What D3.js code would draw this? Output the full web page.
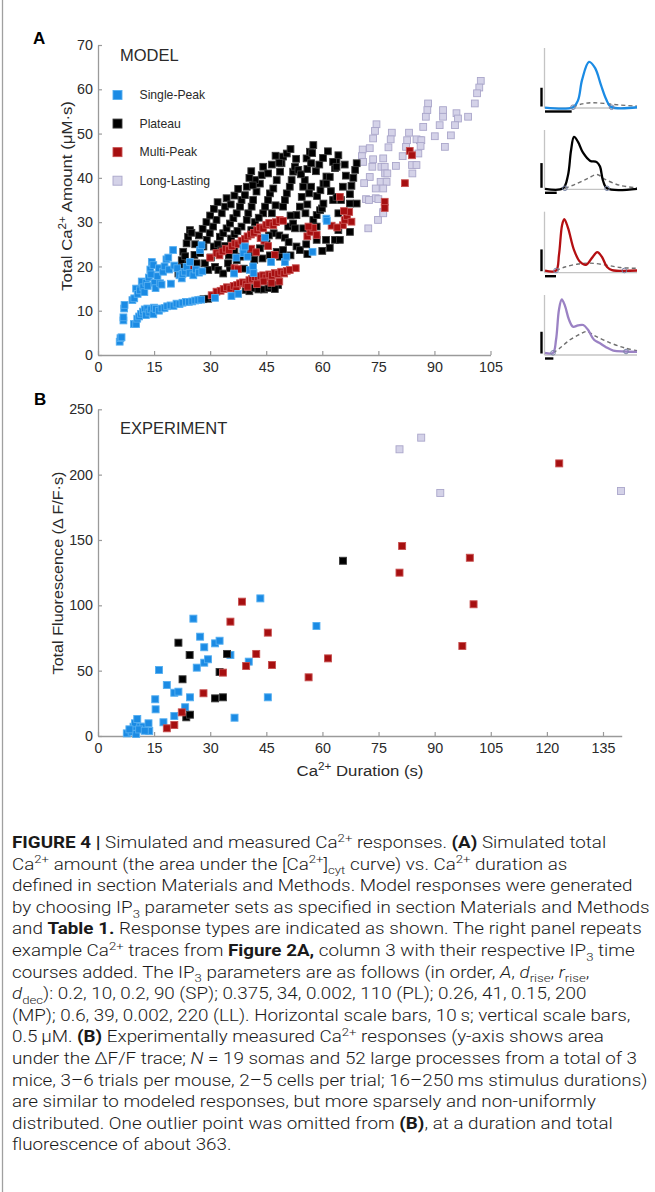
<!DOCTYPE html>
<html>
<head>
<meta charset="utf-8">
<script src="https://cdn.jsdelivr.net/npm/d3@7"></script>
<style>
  body { margin: 0; background: #fff; }
  svg { display: block; }
</style>
</head>
<body>
<svg id="fig" width="655" height="1192"></svg>
<script>
// ---- данные панели A (модель): [длительность, сумма Ca2+]
const singlePeakA = [
  [5.8,3],[6,3.8],[6.3,4],[6.8,7.8],[6.8,8.5],[7,10.5],[7.1,11.3],
  [9.6,7],[10.2,7],[10.5,8.2],[11,8.7],[11.5,9.3],[12,9.8],[12.5,10.3],[12.8,9],[13.2,10.5],[13.7,9.6],
  [14.2,10.3],[14.8,9.2],[15,10.7],[15.5,10.4],[16.3,10],[17,10.5],[17.8,10.6],[18.5,11],[19.4,11.2],
  [20.2,11.1],[21,11.6],[21.8,11.5],[22.6,11.8],[23.5,12],[24.3,12],[25.2,12.1],[26,12.3],[26.8,12.4],
  [27.6,12.5],[31.3,12.9],
  [9.2,12.4],[9.7,12.8],[10.2,15],[10.6,13.8],[11.2,14.6],[11.7,16.6],[12.1,15.3],[12.4,14.2],[12.9,16.3],
  [13.3,15.6],[13.6,17.5],[14,19.3],[14.2,18.2],[14.4,21],[14.8,20.3],[15.1,16.3],[15.4,15.1],[15.9,17.8],
  [16.3,19.6],[16.6,16.2],[17,15.9],[17.4,18.8],[17.8,20],[18.3,21.6],[18.8,22],[19,19.3],[19.5,16.1],
  [20.1,23.7],[20.4,20.2],[21.2,19.6],[21.8,18],[22.4,17.3],[22.6,18.3],[23.2,18.8],[23.7,19.9],[24.5,18.5],
  [24.6,21],[25.5,18],[26.2,19.3],[27,18.6],[27.3,23.7],[27.7,24.8],[27.9,18.9],
  [36.4,18.4],[37,22],[37.5,13.8],[35.7,13.3],[38.9,24.1],[38.9,23],[39.3,24.5],[40,22.2],[40.6,19.2],
  [41.5,20],[41.6,18.5],[44.7,26.5],[46.3,21],[50,21],[50.4,22.2],[57.4,23.3],[61.1,30.8],[61.2,30.3]
];
const plateauA = [
  [28.2,12.6],[29.5,12.7],[30.6,13.1],[39.5,14.7],[40.5,14.4],[41.9,15.1],[42.9,14.8],[44.4,14.8],
  [45.6,15.1],[46.3,15.7],[48.2,15.8],[47.3,14.9],
  [21.5,18.4],[21.9,19.9],[22.4,21.4],[22.8,23.3],[23.3,22.3],[23.7,25.2],[24.1,26.7],[24.6,28.2],
  [25,27.6],[24.2,20.5],[26.4,20.7],[25.8,22.6],
  [27.3,23],[28.2,24.5],[29.1,26],[29.9,27.5],[30.8,29],[31.7,30.5],[33.1,32],[34,33.5],[34.4,35.4],
  [32.6,26.7],[33.5,27.5],[34.4,28.6],[35.3,29.7],[36.2,30.9],[37.1,32],[38,33.5],[38.4,35],[39.3,36.1],[39.8,38],
  [38.4,29],[39.8,30.5],[40.2,32],[41.1,33.5],[41.5,35],[42.4,36.9],[43.3,38.7],[43.8,40.6],[44.2,42.5],
  [44.2,32],[44.7,33.5],[45.5,35],[46,36.5],[46.9,37.6],[47.8,39.5],[48.7,41.4],[49.1,43.3],[49.5,44.8],[48.5,43.4],
  [49.5,33.5],[50,35],[50.5,36.5],[51.3,38],[51.8,39.5],[52.2,41.4],[52.7,42.5],[53.6,41.8],[55.3,39.5],[54.3,40.8],
  [50.9,29],[52.2,29.7],[53.1,31.6],[54,33.5],[54.5,35.7],[54.9,38],[55.8,44.4],[56.7,45.9],[57.6,47.4],[57.3,45.6],
  [57.6,30.5],[58.5,31.6],[59.4,32.7],[59.9,33.1],[60.3,34.2],[58.6,35.9],[59.5,37.2],[60.3,38.7],[61.1,40.3],
  [62,40.2],[61.1,38.7],[62.9,35],[63.8,35.7],[63.4,42.2],[63.8,43.6],[64.3,45.1],[62.9,43.6],[63.8,42.5],
  [65,35],[64.3,32],[67.4,34.2],[69.2,34.2],[67.4,36.3],[67.8,38.2],[68.3,40],[68.8,41.8],[69.2,43.3],
  [28.6,20.7],[29.5,19.2],[31.3,19.9],[32.2,19.2],[33.5,18.4],[35.3,19.6],[34.8,20.7],[37.1,21.4],[38,22.2],
  [40.6,23],[43.3,24.1],[45.1,25.2],[47.8,23.3],[48.7,22.2],[49.5,23.7],[53.1,24.5],[54,23.7],[52.7,28.6],
  [54.9,28.6],[58.5,29],[63.4,26],[58.5,26],[61,26],[64.7,26],[64.3,28.2],[67.4,27.8],[55.7,25],
  [30.2,22],[31,24.5],[32,25],[33,23.8],[34,24.6],[35.6,26.3],[36.5,27.3],[37.3,28],[35,22.5],[36.5,23.6],
  [42,30],[43,31],[46.5,32],[47.5,33.8],[41,28.2],[42,39.5],[41.4,38.3],
  [26,25],[27,27],[28,28.5],[29,30],[30,31.5],[31,33],[32,34.5],[35.5,34],[36.5,36],[37.5,37.5],[40.5,40],
  [41,41.5],[45.5,41],[46.5,43],[47.5,45],[50.5,45.5],[51.5,46.5],[53,44.3],[56,42],[57,43.3],[58.3,41.5],
  [59.2,43],[60.2,44.5],[61.5,46],[65.5,38],[66.3,40.5],[66,43],[62.3,37],[57,38],[56.5,36.5],[56,34],
  [55.5,32],[51.5,31.5],[47,27.5],[48.5,27],[50,26.5],[51,25.5],[45.7,27],[39,19.5],[41.8,21.5],[44,21.8],
  [46,22.5],[51.5,22.5],[56,22.8],[60,23.5],[62,24.2]
];
const multiPeakA = [
  [30.4,13.5],[31.7,14.3],[32.8,14.5],[33.6,14.9],[34.5,15.3],[35.4,15],[36.3,15.6],[37.2,15.8],[38,16.2],
  [38.8,16.4],[39.6,16],[40.5,16.9],[41.2,17.2],[42,17.6],[42.8,17.2],[43.5,17.8],[44.2,18],[45,17.5],
  [45.8,18.2],[46.5,17.9],[47.3,18.5],[48.2,18.3],[49,18.8],[49.8,18.4],[50.5,19],[51.3,19.2],[52.9,19.6],
  [44.3,16.6],[46.4,16.3],[48.5,16.6],[40,15.4],[42.5,16],[37,14.6],
  [30,22],[31.7,23],[32.5,22.5],[33.3,23.4],[34.2,24],[35,23.7],[35.8,24.6],[36.7,25.2],[37.5,25],[38.4,25.8],
  [39.3,26.2],[40,26.8],[40.9,27.2],[41.7,27.6],[42.6,28.2],[43.3,28.8],[44.2,28.6],[45,29.4],[45.8,29.8],
  [46.9,29.3],[47.6,30],[48.6,30.5],[49.5,30.3],[43.5,26.4],[44.5,25.8],[45.5,24.6],[47.3,22.6],[36.5,19.6],
  [37.4,19.4],[24.6,19.5],[41,24],[42.3,23.2],
  [56,26.8],[56.8,27.8],[57.6,28.7],[58.5,27.1],[56.3,29],[65.5,29.3],[66,30.5],[66.6,31.4],[67.2,32.3],
  [67.8,30.1],[64.7,35.7],[65.8,32.5],[76.7,34.6],[76.7,33.2],[82.1,38.8],[83.4,46.1],[84,45.1],[62.5,29.2],[64,28.8]
];
const longLastingA = [
  [102.4,61.9],[102,60.4],[101.4,59.1],[100.8,56.8],[99,53.8],[95.9,54.6],[96.3,53.4],[95.5,51.9],[94.4,49.6],
  [92.8,47],[92.3,55.3],[92.3,53.8],[91.4,51.9],[90.1,49.4],[88.3,56.8],[88.1,55.3],[87.7,53.8],[87,51.5],
  [86.1,48.5],[83.2,50.2],[82.7,48.5],[82.4,47],[81.5,44.9],[85.2,48.7],[86.5,48.5],[86.3,47.2],[85.7,45.5],
  [84,42.9],[85.2,42.9],[84.1,41],[79.7,42.7],[78.6,50.2],[78.3,48.7],[77.7,46.9],[76.3,44.4],[74.5,52.1],
  [74.1,50.6],[73.6,48.9],[72.7,46.7],[70.8,46.4],[70.6,44.9],[70.9,43.6],[73.6,44.2],[73.4,42.5],[72.7,40.2],
  [75.8,42.5],[76.7,42.5],[76.8,41],[77.4,41],[75.6,39.1],[77.2,39.1],[74.3,37.6],[76.3,37.6],[71.2,38.8],
  [71.7,35.2],[74.3,35.4],[76.3,32.3],[74.9,30.5],[72.3,28.6],[76.3,32],[72.5,35],[75,35.2]
];

// ---- данные панели B (эксперимент)
const singlePeakB = [
  [7.7,2],[9,3.3],[9.5,7.1],[9.9,9.7],[10.5,13],[11.3,7.1],[12.1,7.1],[13.5,9.7],[13.7,3.8],[10.2,1.5],
  [8.4,5.1],[11,5],[12.5,4],[16.3,50.5],[15.3,28.1],[15.4,20.4],[17.5,10.5],[18.4,39],[20.4,33.1],[21.5,33.9],
  [20.4,15.3],[23.3,22],[24.6,29.6],[25.5,89.8],[26.4,52.3],[27.3,76],[28.4,67.9],[28.4,56.1],[29.4,58.7],
  [31.3,70.9],[32.5,72.9],[35.4,62],[36.5,14],[40.3,56.9],[43.4,105.3],[45.4,29.6],[58.4,84.2]
];
const plateauB = [
  [21.5,71.4],[24.5,62],[22.6,43.4],[23.6,14.3],[24.6,16.3],[31.3,28.8],[33.4,29.6],[32.5,49],[34.5,62.8],[65.5,134.1]
];
const multiPeakB = [
  [18.4,5.9],[20.4,8.4],[22.4,18.1],[28.2,32.7],[33.4,48.5],[35.4,87.5],[38.5,102.8],[39.6,53.6],[42.3,62.8],
  [45.4,79.1],[46.5,54.3],[56.3,44.9],[61.5,59.4],[97.4,68.9],[100.4,100.8],[123.3,208.6],[81.3,145.4],
  [99.4,136.4],[80.6,125]
];
const longLastingB = [[86.4,228.3],[80.6,219.4],[91.5,186],[139.8,187.5]];

// ---- оси
const ticksA_x = [0, 15, 30, 45, 60, 75, 90, 105];
const ticksA_y = [0, 10, 20, 30, 40, 50, 60, 70];
const ticksB_x = [0, 15, 30, 45, 60, 75, 90, 105, 120, 135];
const ticksB_y = [0, 50, 100, 150, 200, 250];
const legendLabels = ["Single-Peak", "Plateau", "Multi-Peak", "Long-Lasting"];

// ---- примеры трасс: [время, с; концентрация, мкМ]
const traceSP = [[0,0.01],[10.5,0.02],[12.4,0.21],[13.9,0.75],[16.5,1.23],[18.75,1.07],[21,0.61],[22.9,0.24],[24.75,0.03],[34.5,0.02]];
const ip3SP = [[10.5,0.03],[13.9,0.11],[17.6,0.14],[22.5,0.12],[28.1,0.08],[34.5,0.05]];
const tracePL = [[0,0.01],[15.4,0.02],[19.6,0.28],[22.2,0.78],[24.8,1.06],[28.2,0.96],[32.5,0.74],[38.4,0.58],[44.2,0.55],[47,0.46],[49.5,0.18],[53,0.02],[78.6,0.01]];
const ip3PL = [[17,0.02],[25.6,0.1],[36.7,0.22],[44.4,0.3],[51.3,0.2],[64,0.08],[78.6,0.03]];
const traceMP = [[0,0.05],[10,0.05],[12.7,0.41],[15.5,1.09],[17.5,1.23],[20.9,1.03],[26.4,0.52],[31.8,0.25],[37.3,0.18],[42.7,0.34],[47.5,0.47],[51.8,0.36],[56.4,0.13],[60.9,0.06],[83.6,0.05]];
const ip3MP = [[10,0.05],[18.2,0.13],[30,0.2],[40.9,0.22],[54.5,0.18],[68.2,0.12],[83.6,0.1]];
const traceLL = [[0,0.05],[9.6,0.05],[13.2,0.35],[16.7,1.04],[20,1.28],[23.9,1.13],[28.7,0.81],[33.5,0.65],[39.5,0.68],[45.8,0.69],[51.4,0.58],[58.6,0.35],[65.8,0.27],[73,0.18],[81.7,0.1],[95.7,0.08],[110,0.07]];
const ip3LL = [[9.6,0.05],[17.9,0.16],[29.9,0.35],[41.9,0.48],[49.9,0.54],[59.8,0.44],[77.7,0.28],[95.7,0.16],[110,0.1]];
const markersSP = [[10.5,0.02],[25,0.02]];
const markersPL = [[17,0.02],[53,0.02]];
const markersMP = [[10,0.05],[72.1,0.05]];
const markersLL = [[9.6,0.05],[96.9,0.08]];

const captionLines = [
  "**FIGURE 4 |** Simulated and measured Ca^{2+} responses. **(A)** Simulated total",
  "Ca^{2+} amount (the area under the [Ca^{2+}]_{cyt} curve) vs. Ca^{2+} duration as",
  "defined in section Materials and Methods. Model responses were generated",
  "by choosing IP_{3} parameter sets as specified in section Materials and Methods",
  "and **Table 1.** Response types are indicated as shown. The right panel repeats",
  "example Ca^{2+} traces from **Figure 2A,** column 3 with their respective IP_{3} time",
  "courses added. The IP_{3} parameters are as follows (in order, //A//, //d//_{rise}, //r//_{rise},",
  "//d//_{dec}): 0.2, 10, 0.2, 90 (SP); 0.375, 34, 0.002, 110 (PL); 0.26, 41, 0.15, 200",
  "(MP); 0.6, 39, 0.002, 220 (LL). Horizontal scale bars, 10\u2009s; vertical scale bars,",
  "0.5\u2009\u03bcM. **(B)** Experimentally measured Ca^{2+} responses (y-axis shows area",
  "under the \u0394F/F trace; //N// = 19 somas and 52 large processes from a total of 3",
  "mice, 3\u20136 trials per mouse, 2\u20135 cells per trial; 16\u2013250\u2009ms stimulus durations)",
  "are similar to modeled responses, but more sparsely and non-uniformly",
  "distributed. One outlier point was omitted from **(B)**, at a duration and total",
  "fluorescence of about 363."
];

const FONT = "'Liberation Sans', Arial, Helvetica, sans-serif";
const AXIS_COLOR = "#9a9a9a";
const TEXT_COLOR = "#2a2a2a";

const styles = {
  sp: { fill: "#1b8be4", stroke: "#55aef0" },
  pl: { fill: "#000000", stroke: "#3a3a3a" },
  mp: { fill: "#a60f10", stroke: "#c85050" },
  ll: { fill: "#d4d2e8", stroke: "#aaa6ca" }
};

const svg = d3.select("#fig");
svg.append("rect").attr("width", 655).attr("height", 1192).attr("fill", "#fff");
// серая линия рамки слева
svg.append("line").attr("x1", 2.5).attr("x2", 2.5).attr("y1", 0).attr("y2", 1192)
  .attr("stroke", "#a0a0a0").attr("stroke-width", 1.3);

// текст с верхними/нижними индексами: ^{..} _{..}, **жирный**, //курсив//
function rich(text, str, fs) {
  const parts = str.split(/(\^\{[^}]*\}|_\{[^}]*\}|\*\*|\/\/)/).filter((s) => s !== "");
  let bold = false, ital = false, shift = 0;
  parts.forEach((p) => {
    if (p === "**") { bold = !bold; return; }
    if (p === "//") { ital = !ital; return; }
    let t = p, target = 0, size = fs;
    if (p.startsWith("^{")) { t = p.slice(2, -1); target = -fs * 0.4; size = fs * 0.7; }
    else if (p.startsWith("_{")) { t = p.slice(2, -1); target = fs * 0.3; size = fs * 0.7; }
    text.append("tspan")
      .attr("dy", target - shift)
      .attr("font-size", size)
      .attr("font-weight", bold ? "bold" : null)
      .attr("font-style", ital ? "italic" : null)
      .text(t);
    shift = target;
  });
}

// растянуть подпись оси до ширины оригинала
function fitLabel(text, x, y, rot, target) {
  const w = text.node().getComputedTextLength();
  text.attr("transform", `translate(${x},${y}) rotate(${rot}) scale(${target / w},1)`);
}

function styleAxis(g) {
  g.select(".domain").attr("stroke", AXIS_COLOR).attr("stroke-width", 1.3);
  g.selectAll(".tick line").attr("stroke", AXIS_COLOR).attr("stroke-width", 1.2);
  g.selectAll(".tick text").attr("fill", TEXT_COLOR).attr("font-size", 14.3).attr("font-family", FONT);
}

function squares(g, data, x, y, st, size) {
  g.selectAll(null)
    .data(data)
    .enter()
    .append("rect")
    .attr("x", (d) => x(d[0]) - size / 2)
    .attr("y", (d) => y(d[1]) - size / 2)
    .attr("width", size)
    .attr("height", size)
    .attr("fill", st.fill)
    .attr("stroke", st.stroke)
    .attr("stroke-width", 0.9);
}

// ================= Панель A =================
const xA = d3.scaleLinear().domain([0, 105]).range([98, 490.5]);
const yA = d3.scaleLinear().domain([0, 70]).range([355, 45]);

const gA = svg.append("g");
gA.append("g").attr("transform", "translate(0,355)")
  .call(d3.axisBottom(xA).tickValues(ticksA_x).tickSizeInner(-4).tickSizeOuter(0).tickPadding(7))
  .call(styleAxis);
gA.append("g").attr("transform", "translate(98,0)")
  .call(d3.axisLeft(yA).tickValues(ticksA_y).tickSizeInner(-4).tickSizeOuter(0).tickPadding(5))
  .call(styleAxis);

squares(gA.append("g"), longLastingA, xA, yA, styles.ll, 6.8);
squares(gA.append("g"), plateauA, xA, yA, styles.pl, 6.8);
squares(gA.append("g"), multiPeakA, xA, yA, styles.mp, 6.8);
squares(gA.append("g"), singlePeakA, xA, yA, styles.sp, 6.8);

gA.append("text").attr("x", 33).attr("y", 44).attr("font-family", FONT)
  .attr("font-weight", "bold").attr("font-size", 17).attr("fill", "#000").text("A");
gA.append("text").attr("x", 120).attr("y", 61).attr("font-family", FONT)
  .attr("font-size", 16.5).attr("fill", TEXT_COLOR).text("MODEL");

const yLabA = gA.append("text")
  .attr("text-anchor", "middle").attr("font-family", FONT).attr("fill", TEXT_COLOR).attr("font-size", 14.5);
rich(yLabA, "Total Ca^{2+} Amount (\u03bcM\u00b7s)", 14.5);
fitLabel(yLabA, 71.5, 196, -90, 190);

// легенда
const legendKeys = ["sp", "pl", "mp", "ll"];
const legY = d3.scaleLinear().domain([0, 3]).range([95, 180.7]);
const leg = gA.append("g");
legendLabels.forEach((lab, i) => {
  leg.append("rect").attr("x", 113).attr("y", legY(i) - 4.5).attr("width", 9).attr("height", 9)
    .attr("fill", styles[legendKeys[i]].fill).attr("stroke", styles[legendKeys[i]].stroke).attr("stroke-width", 0.9);
  leg.append("text").attr("x", 139.5).attr("y", legY(i) + 4.3).attr("font-family", FONT)
    .attr("font-size", 12.2).attr("fill", TEXT_COLOR).text(lab);
});

// ---- примеры трасс справа
const traces = [
  { trace: traceSP, ip3: ip3SP, marks: markersSP, color: "#1b8be4", T: 34.5, cmax: 1.6, top: 48, bottom: 108 },
  { trace: tracePL, ip3: ip3PL, marks: markersPL, color: "#000000", T: 78.6, cmax: 1.2, top: 130, bottom: 189.3 },
  { trace: traceMP, ip3: ip3MP, marks: markersMP, color: "#b40f12", T: 83.6, cmax: 1.4, top: 211.7, bottom: 272.7 },
  { trace: traceLL, ip3: ip3LL, marks: markersLL, color: "#9b82c4", T: 110, cmax: 1.38, top: 295, bottom: 355 }
];
traces.forEach((tr) => {
  const x = d3.scaleLinear().domain([0, tr.T]).range([545, 637]);
  const y = d3.scaleLinear().domain([0, tr.cmax]).range([tr.bottom, tr.top]);
  const g = svg.append("g");
  g.append("line").attr("x1", 544.5).attr("x2", 544.5).attr("y1", tr.top).attr("y2", tr.bottom)
    .attr("stroke", "#c4c4c4").attr("stroke-width", 1.3);
  g.append("line").attr("x1", 544.5).attr("x2", 637).attr("y1", tr.bottom).attr("y2", tr.bottom)
    .attr("stroke", "#c4c4c4").attr("stroke-width", 1.3);
  // масштабные отрезки: 0.5 мкМ и 10 с
  g.append("line").attr("x1", 541.5).attr("x2", 541.5).attr("y1", y(0) - 1.5).attr("y2", y(0.5) - 1.5)
    .attr("stroke", "#000").attr("stroke-width", 2.4);
  g.append("line").attr("x1", x(0)).attr("x2", x(10)).attr("y1", tr.bottom + 3.5).attr("y2", tr.bottom + 3.5)
    .attr("stroke", "#000").attr("stroke-width", 2.4);
  const line = d3.line().x((d) => x(d[0])).y((d) => y(d[1])).curve(d3.curveCatmullRom.alpha(0.5));
  g.append("path").attr("d", line(tr.ip3)).attr("fill", "none").attr("stroke", "#6e6e6e")
    .attr("stroke-width", 1.4).attr("stroke-dasharray", "4,3");
  g.append("path").attr("d", line(tr.trace)).attr("fill", "none").attr("stroke", tr.color)
    .attr("stroke-width", 2.3);
  g.selectAll(null).data(tr.marks).enter().append("circle")
    .attr("cx", (d) => x(d[0])).attr("cy", (d) => y(d[1])).attr("r", 2.3)
    .attr("fill", "none").attr("stroke", "#7a86a8").attr("stroke-width", 1);
});

// ================= Панель B =================
const xB = d3.scaleLinear().domain([0, 140]).range([98, 621.7]);
const yB = d3.scaleLinear().domain([0, 250]).range([736, 409.3]);

const gB = svg.append("g");
gB.append("g").attr("transform", "translate(0,736)")
  .call(d3.axisBottom(xB).tickValues(ticksB_x).tickSizeInner(-4).tickSizeOuter(0).tickPadding(7))
  .call(styleAxis);
gB.append("g").attr("transform", "translate(98,0)")
  .call(d3.axisLeft(yB).tickValues(ticksB_y).tickSizeInner(-4).tickSizeOuter(0).tickPadding(5))
  .call(styleAxis);

squares(gB.append("g"), longLastingB, xB, yB, styles.ll, 7);
squares(gB.append("g"), singlePeakB, xB, yB, styles.sp, 7);
squares(gB.append("g"), plateauB, xB, yB, styles.pl, 7);
squares(gB.append("g"), multiPeakB, xB, yB, styles.mp, 7);

gB.append("text").attr("x", 34).attr("y", 405).attr("font-family", FONT)
  .attr("font-weight", "bold").attr("font-size", 17).attr("fill", "#000").text("B");
gB.append("text").attr("x", 120).attr("y", 434).attr("font-family", FONT)
  .attr("font-size", 16.5).attr("fill", TEXT_COLOR).text("EXPERIMENT");

const yLabB = gB.append("text")
  .attr("text-anchor", "middle").attr("font-family", FONT).attr("fill", TEXT_COLOR).attr("font-size", 14.5);
rich(yLabB, "Total Fluorescence (\u0394 F/F\u00b7s)", 14.5);
fitLabel(yLabB, 63.3, 573, -90, 203);

const xLabB = gB.append("text")
  .attr("text-anchor", "middle").attr("font-family", FONT).attr("fill", TEXT_COLOR).attr("font-size", 14.5);
rich(xLabB, "Ca^{2+} Duration (s)", 14.5);
fitLabel(xLabB, 360, 776, 0, 127);

// ================= Подпись =================
const cap = svg.append("g").attr("font-family", "Roboto, 'Liberation Sans', sans-serif")
  .attr("font-weight", 300).attr("fill", "#1a1a1a");
const capLines = captionLines.map((s, i) => {
  const t = cap.append("text").attr("x", 0).attr("y", 848 + i * 21.6).attr("font-size", 16);
  rich(t, s, 16);
  return t;
});
// подгоняем ширину строки 4 под оригинал
const w4 = capLines[3].node().getComputedTextLength();
const sx = 638 / w4;
cap.attr("transform", `translate(12,0) scale(${sx},1)`);
</script>
</body>
</html>
